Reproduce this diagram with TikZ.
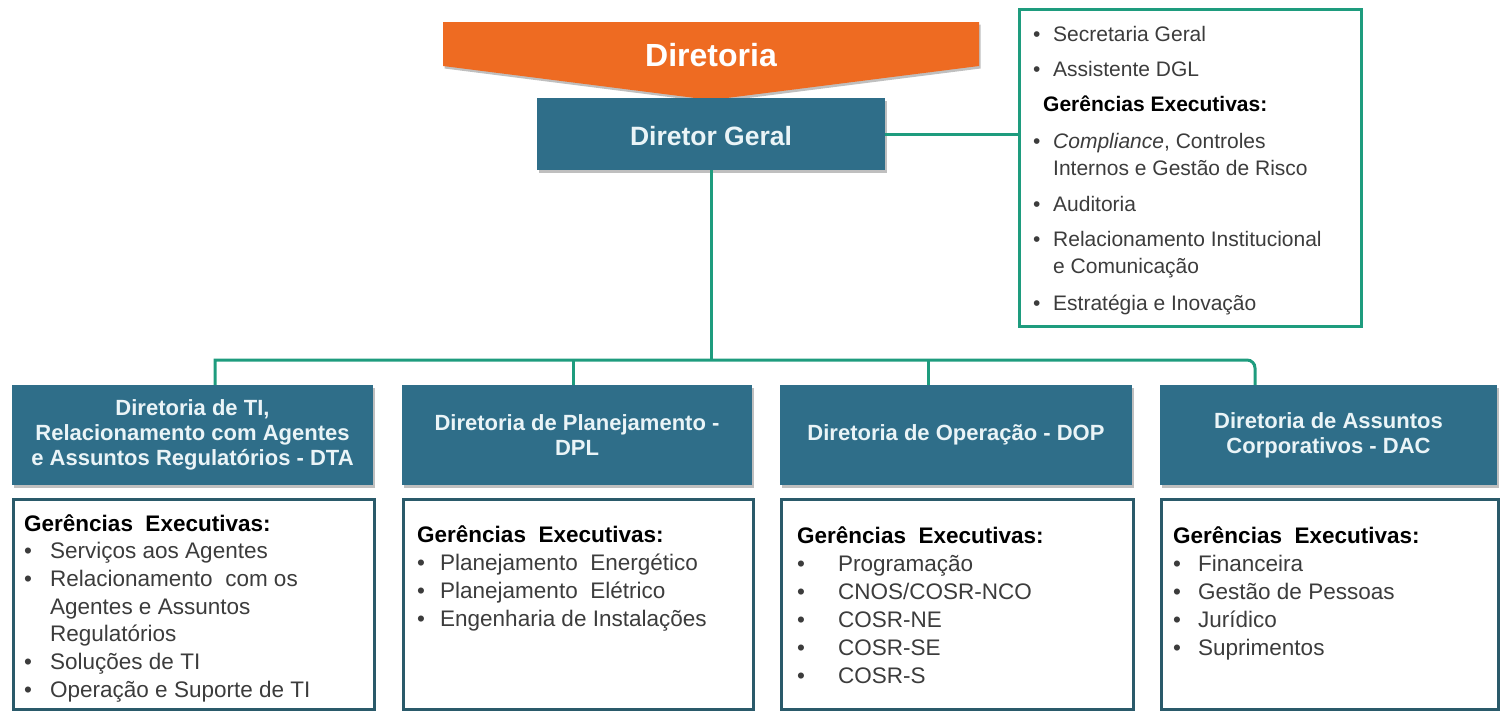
\documentclass[tikz,border=0pt]{standalone}
\usepackage{fontspec}
\setmainfont{Liberation Sans}
\usetikzlibrary{calc,shadows}
\definecolor{hdrblue}{HTML}{2F6E89}
\definecolor{hdrtext}{HTML}{EAF4F7}
\definecolor{linegreen}{HTML}{1E9C7E}
\definecolor{bodyedge}{HTML}{2A5A6A}
\definecolor{bannerorange}{HTML}{EE6B22}
\definecolor{itemgray}{HTML}{3C3C3C}
\newcommand\bitem[2]{\hbox{\makebox[#1][l]{\textbullet}#2}}
\newcommand\citem[2]{\hbox{\hspace*{#1}#2}}
\newcommand\ghead[1]{\hbox{\color{black}\bfseries #1}}
\begin{document}
\begin{tikzpicture}[x=1pt,y=-1pt,
  softshadow/.style={drop shadow={shadow xshift=1.5pt, shadow yshift=-2.5pt, opacity=0.25, fill=black}},
  hdr/.style={fill=hdrblue, text=hdrtext, font=\bfseries\fontsize{22}{25}\selectfont, align=center, inner sep=0pt, minimum height=100pt, softshadow},
  bodybox/.style={draw=bodyedge, line width=2.6pt, fill=white, inner sep=0pt, anchor=north west, minimum height=210pt},
  gline/.style={draw=linegreen, line width=3pt},
  list/.style={anchor=base west, inner sep=0pt, text=itemgray},
]
\useasboundingbox (0,0) rectangle (1506,710);

% banner
\fill[bannerorange, softshadow] (443,22) -- (979,22) -- (979,66) -- (711,100) -- (443,66) -- cycle;
\node[text=white, font=\bfseries\fontsize{32}{36}\selectfont, inner sep=0pt] (dir) at (711,55) {Diretoria};

% director
\node[fill=hdrblue, text=hdrtext, font=\bfseries\fontsize{26.5}{30}\selectfont, minimum width=348pt, minimum height=72pt, inner sep=0pt, text height=23pt, softshadow] (dg) at (711,134) {Diretor Geral};

% right box
\node[draw=linegreen, line width=3pt, fill=white, anchor=north west, minimum width=342pt, minimum height=317pt, inner sep=0pt] (rb) at (1018,8) {};
\draw[gline] (dg.east) -- (dg.east -| rb.west);

\node[list, font=\fontsize{21}{27}\selectfont] (rl) at (1033,41) {\vtop{%
  \bitem{20pt}{Secretaria Geral}\vskip8pt
  \bitem{20pt}{Assistente DGL}\vskip8pt
  \ghead{\hspace*{10pt}Gerências Executivas:}\vskip10pt
  \bitem{20pt}{\textit{Compliance}, Controles}
  \citem{20pt}{Internos e Gestão de Risco}\vskip9pt
  \bitem{20pt}{Auditoria}\vskip8pt
  \bitem{20pt}{Relacionamento Institucional}
  \citem{20pt}{e Comunicação}\vskip10pt
  \bitem{20pt}{Estratégia e Inovação}}};

% headers
\node[hdr, minimum width=361pt] (h1) at (192.5,435) {Diretoria de TI,\\Relacionamento com Agentes\\e Assuntos Regulatórios - DTA};
\node[hdr, minimum width=350pt] (h2) at (577,435) {Diretoria de Planejamento -\\DPL};
\node[hdr, minimum width=352pt] (h3) at (956,435) {Diretoria de Operação - DOP};
\node[hdr, minimum width=337pt] (h4) at (1328.5,435) {Diretoria de Assuntos\\Corporativos - DAC};

% bodies
\node[bodybox, minimum width=361pt] (b1) at (12,498) {};
\node[bodybox, minimum width=350pt] (b2) at (402,498) {};
\node[bodybox, minimum width=352pt] (b3) at (780,498) {};
\node[bodybox, minimum width=337pt] (b4) at (1160,498) {};

% connectors
\coordinate (bus1) at (215,360);
\coordinate (bus2) at (573,360);
\coordinate (bus3) at (928,360);
\coordinate (bus4) at (1255,360);
\coordinate (bus4a) at (1230,360);
\draw[gline] (dg.south) -- (dg.south |- bus1);
\draw[gline] (bus1 |- h1.north) -- (bus1) -- (bus4a) {[rounded corners=8pt] -- (bus4) -- (bus4 |- h4.north)};
\draw[gline] (bus2) -- (bus2 |- h2.north);
\draw[gline] (bus3) -- (bus3 |- h3.north);

% lists
\node[list, font=\fontsize{22.5}{27.7}\selectfont] (l1) at (24,531) {\vtop{%
  \ghead{Gerências\ \ Executivas:}
  \bitem{26pt}{Serviços aos Agentes}
  \bitem{26pt}{Relacionamento\ \ com os}
  \citem{26pt}{Agentes e Assuntos}
  \citem{26pt}{Regulatórios}
  \bitem{26pt}{Soluções de TI}
  \bitem{26pt}{Operação e Suporte de TI}}};
\node[list, font=\fontsize{22.5}{28}\selectfont] (l2) at (417,542) {\vtop{%
  \ghead{Gerências\ \ Executivas:}
  \bitem{23pt}{Planejamento\ \ Energético}
  \bitem{23pt}{Planejamento\ \ Elétrico}
  \bitem{23pt}{Engenharia de Instalações}}};
\node[list, font=\fontsize{22.5}{28}\selectfont] (l3) at (797,543) {\vtop{%
  \ghead{Gerências\ \ Executivas:}
  \bitem{41pt}{Programação}
  \bitem{41pt}{CNOS/COSR-NCO}
  \bitem{41pt}{COSR-NE}
  \bitem{41pt}{COSR-SE}
  \bitem{41pt}{COSR-S}}};
\node[list, font=\fontsize{22.5}{28}\selectfont] (l4) at (1173,543) {\vtop{%
  \ghead{Gerências\ \ Executivas:}
  \bitem{25pt}{Financeira}
  \bitem{25pt}{Gestão de Pessoas}
  \bitem{25pt}{Jurídico}
  \bitem{25pt}{Suprimentos}}};
\end{tikzpicture}
\end{document}
